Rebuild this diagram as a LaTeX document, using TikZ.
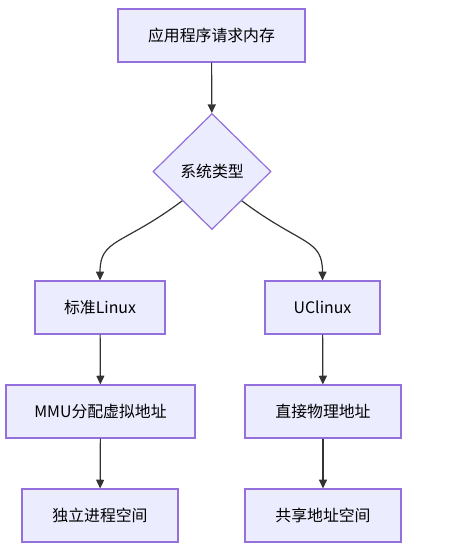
\documentclass[tikz,border=0pt]{standalone}
\usepackage{fontspec}
\newfontfamily\cjk{Noto Sans CJK SC}
\usetikzlibrary{arrows.meta, positioning, shapes.geometric}

\definecolor{boxfill}{HTML}{ECECFF}
\definecolor{boxline}{HTML}{9370DB}
\definecolor{edgeline}{HTML}{333333}

\begin{document}
\begin{tikzpicture}[
  x=0.75pt, y=-0.75pt,
  blk/.style={draw=boxline, fill=boxfill, line width=0.9pt, minimum height=39.75pt, inner sep=3pt, align=center, font=\cjk\fontsize{11.9pt}{14pt}\selectfont},
  dec/.style={diamond, draw=boxline, fill=boxfill, line width=0.9pt, minimum width=88.5pt, minimum height=87pt, inner sep=0pt, align=center, font=\cjk\fontsize{11.9pt}{14pt}\selectfont},
  fl/.style={-{Triangle[length=6.5pt, width=6pt]}, line width=0.9pt, draw=edgeline}
]
\useasboundingbox (0,0) rectangle (453,556);
\node[blk, minimum width=140.25pt] (req) at (211.5,35.5) {应用程序请求内存};
\node[dec] (sys) at (212,171.5) {系统类型};
\node[blk, minimum width=97.5pt] (linux) at (100,307.5) {标准Linux};
\node[blk, minimum width=86.25pt] (uc) at (322.5,307.5) {UClinux};
\node[blk, minimum width=141.75pt] (mmu) at (100.5,411.5) {MMU分配虚拟地址};
\node[blk, minimum width=117pt] (phys) at (323,411.5) {直接物理地址};
\node[blk, minimum width=117pt] (own) at (100,515.5) {独立进程空间};
\node[blk, minimum width=117pt] (shared) at (323,515.5) {共享地址空间};
\draw[fl] (req) -- (sys);
\draw[fl] (sys.south west) .. controls +(-60,45) and +(0,-42) .. (linux.north);
\draw[fl] (sys.south east) .. controls +(60,45) and +(0,-42) .. (uc.north);
\draw[fl] (linux) -- (mmu); \draw[fl] (mmu) -- (own);
\draw[fl] (uc) -- (phys); \draw[fl] (phys) -- (shared);
\end{tikzpicture}
\end{document}
